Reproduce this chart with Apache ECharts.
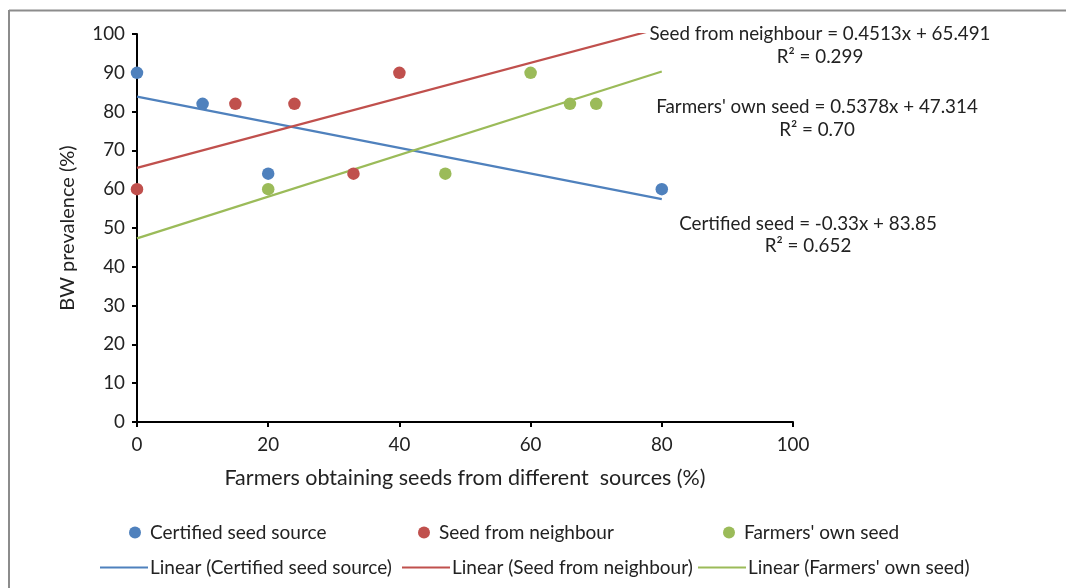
<!DOCTYPE html>
<html><head><meta charset="utf-8">
<script src="https://cdn.jsdelivr.net/npm/echarts@6/dist/echarts.min.js"></script>
<style>html,body{margin:0;padding:0;background:#fff}#c{width:1066px;height:588px}</style>
</head><body><div id="c"></div>
<script>
var seriesNames = ['Certified seed source', 'Seed from neighbour', "Farmers' own seed"];
var certifiedPts = [[0, 90], [10, 82], [20, 64], [80, 60]];
var neighbourPts = [[0, 60], [15, 82], [24, 82], [33, 64], [40, 90]];
var ownPts = [[20, 60], [47, 64], [60, 90], [66, 82], [70, 82]];
// trend-line coefficients [slope, intercept], fitted x range
var certifiedFit = [-0.33, 83.85];
var neighbourFit = [0.4513, 65.491];
var ownFit = [0.5378, 47.314];
var fitRange = [0, 80];
var eqLabels = [
  ['Seed from neighbour = 0.4513x + 65.491', 'R\u00b2 = 0.299'],
  ["Farmers' own seed = 0.5378x + 47.314", 'R\u00b2 = 0.70'],
  ['Certified seed = -0.33x + 83.85', 'R\u00b2 = 0.652']
];
var xTicks = [0, 20, 40, 60, 80, 100];
var yTicks = [0, 10, 20, 30, 40, 50, 60, 70, 80, 90, 100];

var colors = ['#4F81BD', '#C0504D', '#9BBB59'];
var FONT = 'Lato';
var FS = 18.8;
function fitLine(c) { return fitRange.map(function (x) { return [x, c[0] * x + c[1]]; }); }
var pts = [certifiedPts, neighbourPts, ownPts];
var fits = [certifiedFit, neighbourFit, ownFit];
var series = [];
pts.forEach(function (p, i) {
  series.push({ name: seriesNames[i], type: 'scatter', data: p, symbolSize: 12.5, itemStyle: { color: colors[i], opacity: 1 }, z: 3 });
});
fits.forEach(function (c, i) {
  series.push({ name: 'Linear (' + seriesNames[i] + ')', type: 'line', data: fitLine(c), showSymbol: false, symbol: 'none', clip: true,
    lineStyle: { color: colors[i], width: 2.2 }, itemStyle: { color: colors[i] }, z: 2 });
});

var txt = { fontFamily: FONT, fontSize: FS, color: '#222' };
var legends = [];
var row1X = [129, 418, 723];
seriesNames.forEach(function (n, i) {
  legends.push({ data: [n], left: row1X[i], top: 523, padding: 0, icon: 'circle', itemWidth: 12, itemHeight: 12, itemGap: 0,
    textStyle: Object.assign({ padding: [0, 0, 0, 4] }, txt, { fontSize: 19 }), selectedMode: false });
});
var row2X = [100, 402, 698];
seriesNames.forEach(function (n, i) {
  legends.push({ data: ['Linear (' + n + ')'], left: row2X[i], top: 558, padding: 0, icon: 'rect', itemWidth: 48, itemHeight: 2.2, itemGap: 0,
    textStyle: Object.assign({ padding: [0, 0, 0, -3] }, txt, { fontSize: 19 }), selectedMode: false });
});

var eqPos = [[820, 34, 57], [817, 107, 130], [808, 224, 246]];
var graphics = [
  { type: 'line', shape: { x1: 9, y1: 10.5, x2: 1066, y2: 10.5 }, style: { stroke: '#8c8c8c', lineWidth: 2 } },
  { type: 'line', shape: { x1: 9, y1: 10, x2: 9, y2: 588 }, style: { stroke: '#8c8c8c', lineWidth: 2 } }
];
eqLabels.forEach(function (l, i) {
  graphics.push({ type: 'text', x: eqPos[i][0], y: eqPos[i][1], style: { text: l[0], align: 'center', verticalAlign: 'middle', fill: '#222', font: FS + 'px ' + FONT } });
  graphics.push({ type: 'text', x: eqPos[i][0], y: eqPos[i][2], style: { text: l[1], align: 'center', verticalAlign: 'middle', fill: '#222', font: FS + 'px ' + FONT } });
});

var chart = echarts.init(document.getElementById('c'));
chart.setOption({
  animation: false,
  color: colors,
  grid: { left: 137, right: 273, top: 34, bottom: 166 },
  xAxis: {
    type: 'value', min: xTicks[0], max: xTicks[xTicks.length - 1], interval: 20,
    name: 'Farmers obtaining seeds from different  sources (%)', nameLocation: 'middle', nameGap: 45,
    nameTextStyle: Object.assign({}, txt, { fontSize: 21.5 }),
    axisLine: { lineStyle: { color: '#000', width: 2 } },
    axisTick: { show: true, length: 5, lineStyle: { color: '#000', width: 2 } },
    axisLabel: Object.assign({ margin: 13 }, txt),
    splitLine: { show: false }
  },
  yAxis: {
    type: 'value', min: yTicks[0], max: yTicks[yTicks.length - 1], interval: 10,
    name: 'BW prevalence (%)', nameLocation: 'middle', nameGap: 59, nameRotate: 90,
    nameTextStyle: Object.assign({}, txt, { fontSize: 20 }),
    axisLine: { show: true, lineStyle: { color: '#000', width: 2 } },
    axisTick: { show: true, length: 5, lineStyle: { color: '#000', width: 2 } },
    axisLabel: Object.assign({ margin: 12 }, txt),
    splitLine: { show: false }
  },
  legend: legends,
  graphic: graphics,
  series: series
});
</script></body></html>
